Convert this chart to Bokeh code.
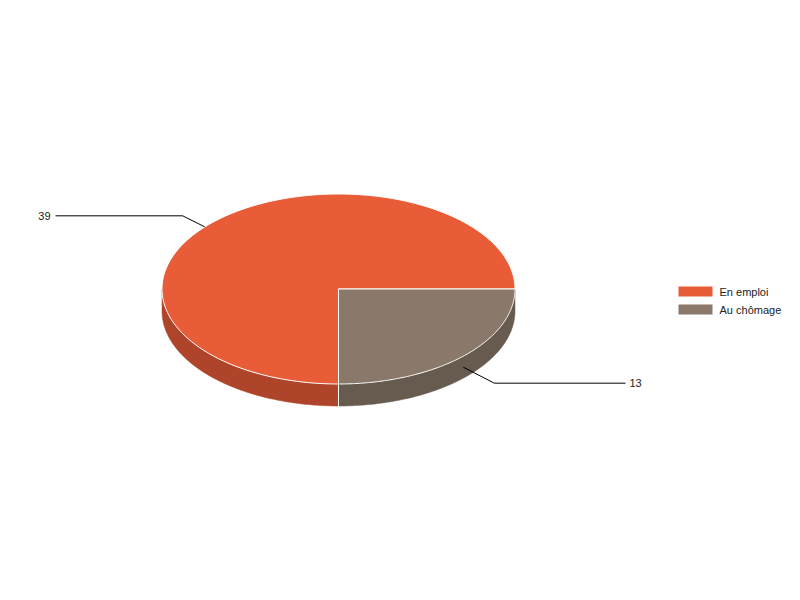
import numpy as np
from bokeh.plotting import figure
from bokeh.models import Range1d
from bokeh.core.properties import value
from bokeh.embed import file_html
from bokeh.resources import INLINE

# ---- data ----
categories = ["En emploi", "Au chômage"]
values = [39, 13]
top_colors = ["#E85C38", "#8A786A"]
side_colors = ["#AE4429", "#675A4F"]

# ---- layout parameters (page pixels) ----
W, H = 784, 584
cx, cy = 338.0, 288.5
rx, ry = 176.5, 95.0
depth = 22.0
start = np.pi / 2  # slices start at bottom, go clockwise on screen (y down)
FONT = "Liberation Sans"

p = figure(width=W, height=H, output_backend="svg", toolbar_location=None,
           x_range=Range1d(0, W), y_range=Range1d(H, 0),
           min_border=0)
p.axis.visible = False
p.grid.visible = False
p.outline_line_color = None
p.background_fill_color = "white"
p.border_fill_color = "white"

vals = np.array(values, dtype=float)
fr = vals / vals.sum()
ends = start + np.cumsum(fr) * 2 * np.pi
starts = ends - fr * 2 * np.pi


def ell(t, dy=0.0):
    return cx + rx * np.cos(t), cy + ry * np.sin(t) + dy


# ---- side walls (front half: screen angle in [0, pi] mod 2pi) ----
side_xs, side_ys, side_c = [], [], []
for a0, a1, col in zip(starts, ends, side_colors):
    for k in range(-1, 3):
        lo = max(a0, k * 2 * np.pi)
        hi = min(a1, k * 2 * np.pi + np.pi)
        if hi > lo:
            t = np.linspace(lo, hi, 120)
            x1, y1 = ell(t)
            x2, y2 = ell(t[::-1], depth)
            side_xs.append(list(np.concatenate([x1, x2])))
            side_ys.append(list(np.concatenate([y1, y2])))
            side_c.append(col)
p.patches(side_xs, side_ys, fill_color=side_c, line_color=side_c, line_width=0.5)

# white edges on side at slice boundaries that lie in front
bx, by = [], []
for a in starts:
    s = np.sin(a)
    if s > 1e-6:
        x0, y0 = ell(a)
        bx.append([x0, x0])
        by.append([y0, y0 + depth])
if bx:
    p.multi_line(bx, by, line_color="white", line_width=1)

# ---- top faces ----
top_xs, top_ys = [], []
for a0, a1 in zip(starts, ends):
    t = np.linspace(a0, a1, 240)
    x, y = ell(t)
    top_xs.append([cx] + list(x) + [cx])
    top_ys.append([cy] + list(y) + [cy])
p.patches(top_xs, top_ys, fill_color=top_colors, line_color="white", line_width=1)

# ---- data labels with connectors ----
lx_left, lx_right = 55.0, 625.0
lxs, lys, tx, ty, tt, ta = [], [], [], [], [], []
for a0, a1, v in zip(starts, ends, values):
    m = (a0 + a1) / 2
    ax, ay = ell(m)
    if np.sin(m) > 0:
        ay += depth / 2
    right = np.cos(m) > 0
    sgn_y = 1 if np.sin(m) > 0 else -1
    if right:
        ex, ey = ax + 31, ay + sgn_y * 16
        hx = lx_right
    else:
        ax, ay = ax - 9, ay + 5
        ex, ey = ax - 22, ay + sgn_y * 11
        hx = lx_left
    lxs.append([ax, ex, hx])
    lys.append([ay, ey, ey])
    tx.append(hx + (4 if right else -5))
    ty.append(ey)
    tt.append(str(v))
    ta.append("left" if right else "right")
p.multi_line(lxs, lys, line_color="black", line_width=1)
p.text(x=tx, y=ty, text=tt, text_align=ta, text_baseline="middle",
       text_font=value(FONT), text_font_size="11px", text_color="#222222")

# ---- legend ----
leg_x, leg_y, sw_w, sw_h, pitch = 678.0, 291.0, 34.0, 10.0, 18.0
idx = np.arange(len(categories))
ys = leg_y + idx * pitch
p.quad(left=[leg_x] * len(categories), right=[leg_x + sw_w] * len(categories),
       top=list(ys - sw_h / 2), bottom=list(ys + sw_h / 2),
       fill_color=top_colors, line_color=None)
p.text(x=[leg_x + sw_w + 7] * len(categories), y=list(ys), text=categories,
       text_align="left", text_baseline="middle",
       text_font=value(FONT), text_font_size="11px", text_color="#222222")

open("out.html", "w").write(file_html(p, INLINE))
